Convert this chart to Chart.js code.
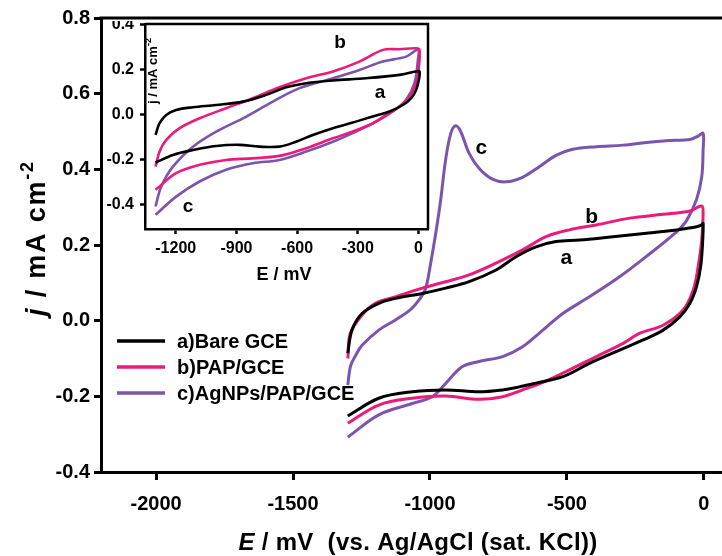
<!DOCTYPE html>
<html><head><meta charset="utf-8">
<script src="https://cdn.jsdelivr.net/npm/chart.js@4/dist/chart.umd.min.js"></script>
<style>
html,body{margin:0;padding:0;background:#fff;}
#wrap{position:relative;width:722px;height:556px;overflow:hidden;background:#fff;}
#main{position:absolute;left:0;top:0;}
#inset{position:absolute;left:103px;top:21px;}
</style></head><body>
<div id="wrap"><canvas id="main" width="722" height="556"></canvas><canvas id="inset" width="329" height="269"></canvas></div>
<script>
// ---------- data ----------
const seriesLabels = ['a)Bare GCE', 'b)PAP/GCE', 'c)AgNPs/PAP/GCE'];
const seriesLetters = ['a', 'b', 'c'];
const seriesColors = ['#000000', '#ea1b7b', '#7b54ae'];

// main plot (E in mV, j in mA cm^-2)
const mainA_E = [-1300,-1285,-1248,-1187,-1126,-1028,-943,-857,-759,-686,-613,-540,-454,-332,-210,-88,-27,-8,-3,-5,-12,-27,-51,-88,-149,-222,-308,-418,-515,-613,-674,-735,-821,-943,-1065,-1187,-1300];
const mainA_j = [-0.086,-0.025,0.019,0.046,0.059,0.072,0.086,0.103,0.134,0.169,0.195,0.209,0.213,0.222,0.231,0.241,0.248,0.253,0.257,0.204,0.143,0.090,0.046,0.010,-0.025,-0.051,-0.078,-0.113,-0.148,-0.165,-0.175,-0.183,-0.188,-0.183,-0.188,-0.205,-0.252];

const mainB_E = [-1300,-1291,-1248,-1199,-1126,-1028,-943,-857,-759,-662,-576,-491,-393,-271,-149,-51,-8,-3,-8,-21,-39,-76,-149,-234,-295,-393,-491,-588,-662,-735,-821,-943,-1065,-1187,-1300];
const mainB_j = [-0.100,-0.034,0.015,0.046,0.063,0.086,0.103,0.121,0.152,0.187,0.222,0.240,0.253,0.271,0.281,0.290,0.303,0.284,0.213,0.143,0.081,0.028,-0.012,-0.033,-0.060,-0.095,-0.130,-0.163,-0.183,-0.201,-0.208,-0.199,-0.205,-0.223,-0.271];

const mainC_E = [-1300,-1290,-1270,-1248,-1187,-1126,-1070,-1040,-1016,-998,-979,-961,-943,-924,-906,-888,-857,-821,-772,-723,-662,-601,-540,-479,-393,-295,-210,-125,-51,-21,-3,-3,-8,-27,-63,-100,-210,-308,-418,-515,-601,-662,-735,-821,-883,-943,-992,-1065,-1187,-1300];
const mainC_j = [-0.170,-0.120,-0.090,-0.065,-0.025,0.002,0.030,0.055,0.085,0.150,0.231,0.319,0.425,0.495,0.515,0.500,0.442,0.403,0.374,0.367,0.379,0.407,0.437,0.453,0.460,0.464,0.471,0.476,0.479,0.488,0.495,0.451,0.380,0.320,0.265,0.235,0.170,0.116,0.063,0.019,-0.033,-0.069,-0.095,-0.108,-0.122,-0.166,-0.201,-0.219,-0.249,-0.308];

// inset plot
const insetA_E = [-1300,-1280,-1247,-1198,-1115,-1000,-868,-753,-654,-555,-423,-259,-94,-12,5,2,-12,-36,-77,-143,-226,-325,-423,-522,-605,-687,-786,-885,-1000,-1115,-1214,-1300];
const insetA_j = [-0.089,-0.037,0.0,0.022,0.034,0.044,0.059,0.089,0.123,0.141,0.153,0.163,0.178,0.193,0.193,0.156,0.111,0.074,0.044,0.015,-0.007,-0.034,-0.059,-0.089,-0.119,-0.141,-0.141,-0.133,-0.138,-0.156,-0.178,-0.212];

const insetB_E = [-1300,-1280,-1247,-1181,-1082,-951,-819,-687,-555,-423,-292,-176,-94,-12,5,2,-12,-44,-94,-160,-226,-325,-423,-555,-687,-819,-951,-1082,-1198,-1300];
const insetB_j = [-0.230,-0.163,-0.111,-0.059,-0.015,0.030,0.074,0.123,0.163,0.193,0.237,0.289,0.292,0.296,0.289,0.215,0.141,0.081,0.037,0.0,-0.037,-0.074,-0.104,-0.148,-0.182,-0.193,-0.200,-0.222,-0.259,-0.333];

const insetC_E = [-1300,-1272,-1214,-1115,-1000,-868,-720,-588,-423,-292,-176,-61,-3,-3,-20,-61,-127,-209,-325,-423,-555,-687,-819,-951,-1082,-1198,-1300];
const insetC_j = [-0.407,-0.319,-0.230,-0.141,-0.074,-0.015,0.059,0.119,0.163,0.200,0.237,0.259,0.289,0.244,0.141,0.067,0.015,-0.030,-0.081,-0.119,-0.163,-0.200,-0.215,-0.244,-0.296,-0.363,-0.444];

// axis ticks
const mainXTicks = [-2000, -1500, -1000, -500, 0];
const mainYTicks = [-0.4, -0.2, 0.0, 0.2, 0.4, 0.6, 0.8];
const insetXTicks = [-1200, -900, -600, -300, 0];
const insetYTicks = [-0.4, -0.2, 0.0, 0.2, 0.4];

// curve letter anchors (data units)
const mainLetterE = [-502, -410, -813];
const mainLetterJ = [0.166, 0.274, 0.456];
const insetLetterE = [-190, -388, -1139];
const insetLetterJ = [0.098, 0.320, -0.409];

// ---------- helpers ----------
const FONT = "'Liberation Sans', Arial, Helvetica, sans-serif";
const pts = (E, j) => E.map((e, i) => ({x: e, y: j[i]}));
function mk(E, j, k, w) {
  return {label: seriesLabels[k], data: pts(E, j), showLine: true, borderColor: seriesColors[k],
    backgroundColor: seriesColors[k], borderWidth: w, pointRadius: 0, tension: 0.35, fill: false};
}
function rich(ctx, segs, x, y, center, spacing) {
  ctx.letterSpacing = (spacing || 0) + 'px';
  let w = 0;
  segs.forEach(s => { ctx.font = s.f; w += ctx.measureText(s.t).width; });
  let cx = center ? x - w / 2 : x;
  segs.forEach(s => { ctx.font = s.f; ctx.fillText(s.t, cx, y + (s.dy || 0)); cx += ctx.measureText(s.t).width; });
  ctx.letterSpacing = '0px';
}
const fmt1 = v => (Math.abs(v) < 1e-9 ? 0 : v).toFixed(1);

function axisCfg(min, max, ticksArr, fsize, tickLen, pad, bw, isY, fixed) {
  return {
    type: 'linear', min: min, max: max,
    afterBuildTicks: s => { s.ticks = ticksArr.map(v => ({value: v})); },
    afterFit: s => {
      if (isY) s.width = fixed; else s.height = fixed;
      s.paddingTop = 0; s.paddingBottom = 0; s.paddingLeft = 0; s.paddingRight = 0;
    },
    ticks: {color: '#000', font: {family: FONT, weight: 'bold', size: fsize}, padding: pad,
      maxRotation: 0, autoSkip: false, callback: v => isY ? fmt1(v) : String(Math.round(v))},
    grid: {drawOnChartArea: false, drawTicks: true, tickLength: tickLen, tickWidth: bw, tickColor: '#000'},
    border: {display: true, width: bw, color: '#000'}
  };
}

// ---------- main chart ----------
const mainDecor = {
  id: 'mainDecor',
  afterDraw(chart) {
    const ctx = chart.ctx, a = chart.chartArea, xs = chart.scales.x, ys = chart.scales.y;
    ctx.save();
    ctx.strokeStyle = '#000'; ctx.lineWidth = 3;
    ctx.beginPath(); ctx.moveTo(a.left - 1.5, a.top); ctx.lineTo(722, a.top); ctx.stroke();
    ctx.fillStyle = '#000'; ctx.textBaseline = 'alphabetic'; ctx.textAlign = 'left';
    // x title
    rich(ctx, [{t: 'E', f: 'italic bold 24px ' + FONT}, {t: ' / mV  (vs. Ag/AgCl (sat. KCl))', f: 'bold 24px ' + FONT}], 418, 550, true, 0.3);
    // y title
    ctx.save(); ctx.translate(45, 238); ctx.rotate(-Math.PI / 2);
    rich(ctx, [{t: 'j', f: 'italic bold 27px ' + FONT}, {t: ' / mA cm', f: 'bold 27px ' + FONT}, {t: '-2', f: 'bold 18px ' + FONT, dy: -12}], 0, 0, true, 1.8);
    ctx.restore();
    // legend
    ctx.textBaseline = 'middle';
    ctx.font = 'bold 20px ' + FONT;
    [341, 367, 393].forEach((yy, k) => {
      ctx.strokeStyle = seriesColors[k]; ctx.lineWidth = 3.5;
      ctx.beginPath(); ctx.moveTo(117, yy); ctx.lineTo(165, yy); ctx.stroke();
      ctx.fillText(seriesLabels[k], 177, yy + 1);
    });
    // curve letters
    ctx.textAlign = 'center'; ctx.font = 'bold 21px ' + FONT;
    mainLetterE.forEach((e, k) => ctx.fillText(seriesLetters[k], xs.getPixelForValue(e), ys.getPixelForValue(mainLetterJ[k])));
    ctx.restore();
  }
};

new Chart(document.getElementById('main'), {
  type: 'scatter',
  data: {datasets: [mk(mainA_E, mainA_j, 0, 3), mk(mainB_E, mainB_j, 1, 3), mk(mainC_E, mainC_j, 2, 3)]},
  options: {
    responsive: false, animation: false, devicePixelRatio: 1,
    layout: {padding: {top: 18, right: 0, left: 0, bottom: 0}},
    plugins: {legend: {display: false}, tooltip: {enabled: false}},
    scales: {
      x: axisCfg(-2201, 66, mainXTicks, 20, 8, 12, 3, false, 84),
      y: axisCfg(-0.4, 0.8, mainYTicks, 20, 7, 4, 3, true, 101)
    }
  },
  plugins: [mainDecor]
});

// ---------- inset chart ----------
const insetDecor = {
  id: 'insetDecor',
  afterDraw(chart) {
    const ctx = chart.ctx, a = chart.chartArea, xs = chart.scales.x, ys = chart.scales.y;
    ctx.save();
    ctx.strokeStyle = '#000'; ctx.lineWidth = 2.5;
    ctx.beginPath();
    ctx.moveTo(a.left, a.top); ctx.lineTo(a.right, a.top); ctx.lineTo(a.right, a.bottom);
    ctx.stroke();
    ctx.fillStyle = '#000'; ctx.textAlign = 'left'; ctx.textBaseline = 'alphabetic';
    rich(ctx, [{t: 'E / mV', f: 'bold 18px ' + FONT}], 181, 259, true);
    ctx.save(); ctx.translate(54, 50); ctx.rotate(-Math.PI / 2);
    rich(ctx, [{t: 'j / mA cm', f: 'bold 13px ' + FONT}, {t: '-2', f: 'bold 9px ' + FONT, dy: -6}], 0, 0, true);
    ctx.restore();
    ctx.textAlign = 'center'; ctx.textBaseline = 'middle'; ctx.font = 'bold 19px ' + FONT;
    insetLetterE.forEach((e, k) => ctx.fillText(seriesLetters[k], xs.getPixelForValue(e), ys.getPixelForValue(insetLetterJ[k])));
    ctx.restore();
  }
};

new Chart(document.getElementById('inset'), {
  type: 'scatter',
  data: {datasets: [mk(insetA_E, insetA_j, 0, 2.6), mk(insetB_E, insetB_j, 1, 2.6), mk(insetC_E, insetC_j, 2, 2.6)]},
  options: {
    responsive: false, animation: false, devicePixelRatio: 1,
    layout: {padding: {top: 3, right: 4, left: 0, bottom: 0}},
    plugins: {legend: {display: false}, tooltip: {enabled: false}},
    scales: {
      x: axisCfg(-1352, 47, insetXTicks, 16, 5, 5, 2.5, false, 61),
      y: axisCfg(-0.507, 0.404, insetYTicks, 16, 5, 6, 2.5, true, 42)
    }
  },
  plugins: [insetDecor]
});
</script>
</body></html>
